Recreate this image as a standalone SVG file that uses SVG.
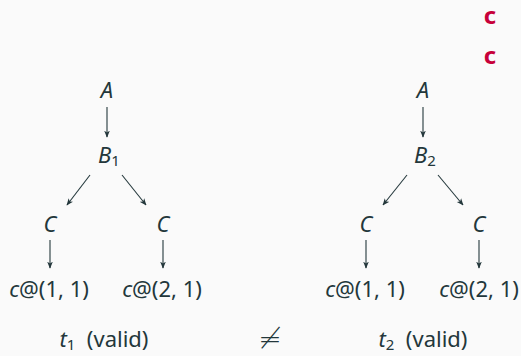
<svg xmlns="http://www.w3.org/2000/svg" width="521" height="356" viewBox="0 0 521 356">
<defs>
<style>
.t{font-family:"Noto Sans","Open Sans","DejaVu Sans",sans-serif;fill:#23373b;font-size:22px;text-anchor:middle}
.i{font-style:italic}
.s{font-size:15px}
.r{font-family:"Noto Sans","Open Sans",sans-serif;font-weight:bold;fill:#c70039;font-size:24px;text-anchor:middle}
.e{stroke:#23373b;stroke-width:1.1;fill:none;marker-end:url(#ah)}
</style>
<marker id="ah" viewBox="0 0 10 10" refX="9" refY="5" markerWidth="7" markerHeight="7" markerUnits="userSpaceOnUse" orient="auto">
<path d="M0,1 L10,5 L0,9 L2.5,5 Z" fill="#23373b"/>
</marker>
</defs>
<rect width="521" height="356" fill="#fafafa"/>
<g id="alerts">
<text class="r" x="490" y="24">c</text>
<text class="r" x="490" y="64">c</text>
</g>
<g id="connectors">
<line class="e" x1="107" y1="107" x2="107" y2="137"/>
<line class="e" x1="90" y1="175" x2="67" y2="205"/>
<line class="e" x1="122" y1="175" x2="146" y2="205"/>
<line class="e" x1="50" y1="240" x2="50" y2="268"/>
<line class="e" x1="163" y1="240" x2="163" y2="268"/>
<line class="e" x1="423" y1="107" x2="423" y2="137"/>
<line class="e" x1="407" y1="175" x2="383" y2="205"/>
<line class="e" x1="438" y1="175" x2="463" y2="205"/>
<line class="e" x1="366" y1="240" x2="366" y2="268"/>
<line class="e" x1="479" y1="240" x2="479" y2="268"/>
</g>
<g id="t1-A"><text class="t i" x="107" y="98">A</text></g>
<g id="t1-B1"><text class="t" x="109" y="163"><tspan class="i">B</tspan><tspan class="s" dy="3">1</tspan></text></g>
<g id="t1-C1"><text class="t i" x="50" y="232">C</text></g>
<g id="t1-C2"><text class="t i" x="163" y="232">C</text></g>
<g id="t1-c11"><text class="t" x="49" y="297"><tspan class="i">c</tspan>@(1, 1)</text></g>
<g id="t1-c21"><text class="t" x="162" y="297"><tspan class="i">c</tspan>@(2, 1)</text></g>
<g id="t2-A"><text class="t i" x="423" y="98">A</text></g>
<g id="t2-B2"><text class="t" x="425" y="163"><tspan class="i">B</tspan><tspan class="s" dy="3">2</tspan></text></g>
<g id="t2-C1"><text class="t i" x="366" y="232">C</text></g>
<g id="t2-C2"><text class="t i" x="479" y="232">C</text></g>
<g id="t2-c11"><text class="t" x="365" y="297"><tspan class="i">c</tspan>@(1, 1)</text></g>
<g id="t2-c21"><text class="t" x="479" y="297"><tspan class="i">c</tspan>@(2, 1)</text></g>
<g id="labels">
<text class="t" x="104" y="347"><tspan class="i">t</tspan><tspan class="s" dy="3">1</tspan><tspan dy="-3" xml:space="preserve">  (valid)</tspan></text>
<text class="t" x="270" y="348" style="font-size:28px;font-family:'DejaVu Sans',sans-serif;font-weight:200">≠</text>
<text class="t" x="423" y="347"><tspan class="i">t</tspan><tspan class="s" dy="3">2</tspan><tspan dy="-3" xml:space="preserve">  (valid)</tspan></text>
</g>
</svg>
